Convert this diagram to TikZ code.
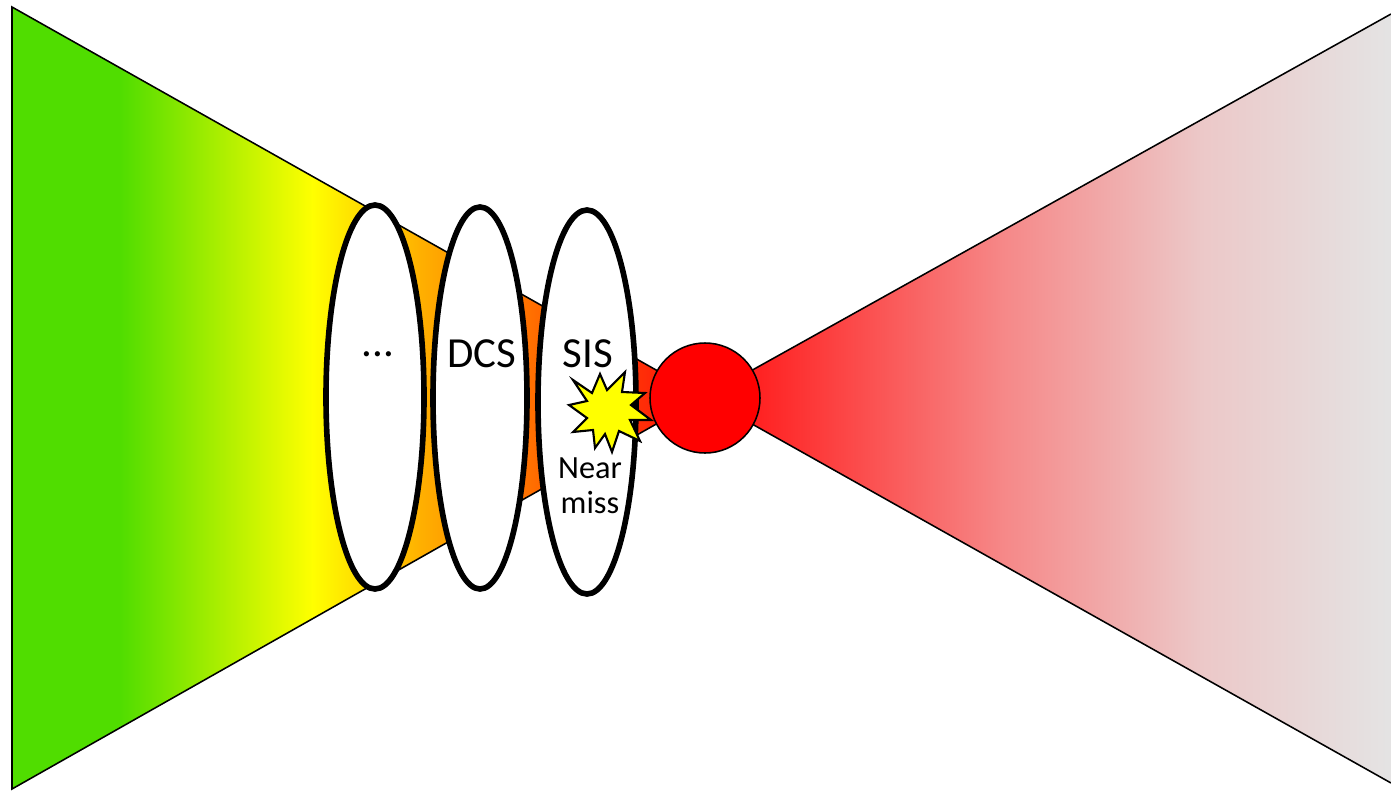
\documentclass[tikz,border=0pt]{standalone}
\usepackage{fontspec}
\setmainfont{Carlito}
\usetikzlibrary{shapes.geometric}

% gradient stops
\definecolor{gGreen}{RGB}{80,221,0}
\definecolor{gYellow}{RGB}{255,255,0}
\definecolor{gOrange}{RGB}{255,176,0}
\definecolor{gDeepOrange}{RGB}{255,108,0}
\definecolor{gRedOrange}{RGB}{255,40,8}
\definecolor{gRed}{RGB}{255,0,0}
\definecolor{rRed}{RGB}{255,35,35}
\definecolor{rSalmon}{RGB}{246,135,135}
\definecolor{rPink}{RGB}{236,200,200}
\definecolor{rGrey}{RGB}{228,228,228}
\definecolor{starYellow}{RGB}{255,255,0}

\tikzset{
  layer/.style={ellipse, draw=black, fill=white, line width=8pt, inner sep=0pt},
  eventball/.style={circle, draw=black, fill=gRed, line width=2.2pt, minimum size=110*0.05cm, inner sep=0pt},
  edge/.style={draw=black, line width=2.2pt, line join=miter},
  bigtext/.style={font=\fontsize{61}{72}\selectfont},
  smalltext/.style={font=\fontsize{46}{50}\selectfont, align=center},
}

\begin{document}
\begin{tikzpicture}[x=0.05cm, y=-0.05cm]
\useasboundingbox (0,0) rectangle (1391,792);

% key points of the bow-tie
\coordinate (LT) at (12,7);
\coordinate (LB) at (12,789);
\coordinate (C) at (704,397);
\coordinate (RT) at (1391,14);
\coordinate (RB) at (1391,783);

% left wedge: causes, green to red
\begin{scope}
  \clip (LT) -- (LB) -- (C) -- cycle;
  \fill[gGreen] (0,0) rectangle (121,800);
  \shade[left color=gGreen, right color=gYellow] (120,0) rectangle (313,800);
  \shade[left color=gYellow, right color=gOrange] (312,0) rectangle (421,800);
  \shade[left color=gOrange, right color=gDeepOrange] (420,0) rectangle (536,800);
  \shade[left color=gDeepOrange, right color=gRedOrange] (535,0) rectangle (651,800);
  \shade[left color=gRedOrange, right color=gRed] (650,0) rectangle (720,800);
\end{scope}
\draw[edge] (LT) -- (LB) -- (C) -- cycle;

% right wedge: consequences, red to grey
\begin{scope}
  \clip (C) -- (RT) -- (RB) -- cycle;
  \fill[rRed] (690,0) rectangle (761,800);
  \shade[left color=rRed, right color=rSalmon] (760,0) rectangle (1001,800);
  \shade[left color=rSalmon, right color=rPink] (1000,0) rectangle (1201,800);
  \shade[left color=rPink, right color=rGrey] (1200,0) rectangle (1395,800);
\end{scope}
\draw[edge] (RT) -- (C) -- (RB);

% protection layers
\node[layer, minimum width=98*0.05cm, minimum height=384*0.05cm] (l1) at (375,397) {};
\node[layer, minimum width=94*0.05cm, minimum height=382*0.05cm] (l2) at (480,398) {};
\node[layer, minimum width=98*0.05cm, minimum height=384*0.05cm] (l3) at (587,402) {};

% top event
\node[eventball] (top) at (705,398) {};

% near-miss burst
\filldraw[fill=starYellow, draw=black, line width=3pt, line join=miter, miter limit=10]
  (573,380) -- (592,393) -- (600,374) -- (607,390) -- (625,372) -- (622,392)
  -- (645,393) -- (631,405) -- (651,420) -- (630,420) -- (640,441) -- (619,431)
  -- (612,452) -- (605,434) -- (595,448) -- (593,430) -- (573,432) -- (587,418)
  -- (569,405) -- (587,401) -- cycle;

% labels
\node[bigtext] (t1) at (378,354) {...};
\node[bigtext] (t2) at (482,354) {DCS};
\node[bigtext] (t3) at (588,354) {SIS};
\node[smalltext] (t4) at (590,486) {Near\\miss};
\end{tikzpicture}
\end{document}
